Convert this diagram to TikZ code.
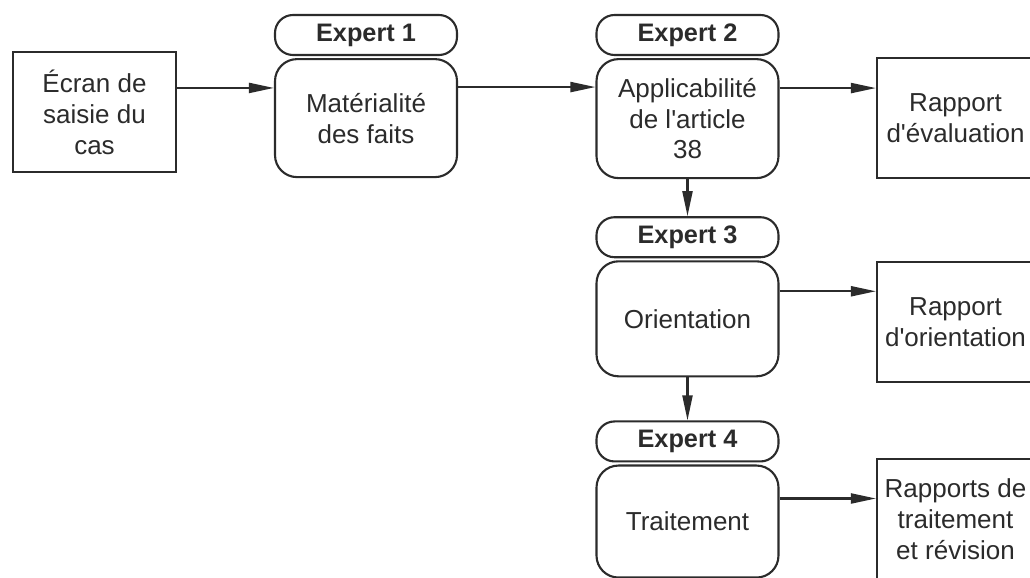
\documentclass[tikz,border=0pt]{standalone}
\usepackage{fontspec}
\setmainfont{Liberation Sans}
\usepackage{xcolor}
\usepackage{tikz}
\usetikzlibrary{positioning, arrows.meta}
\definecolor{ink}{HTML}{2B2B2B}

\begin{document}
\begin{tikzpicture}[
    font=\fontsize{14.8pt}{17.6pt}\selectfont,
    every node/.style={draw=ink, text=ink, line width=1.2pt, align=center},
    report/.style={minimum width=3.14cm, minimum height=2.4cm},
    head/.style={rounded corners=0.36cm, minimum width=3.64cm, minimum height=0.8cm,
                 inner sep=0pt, font=\fontsize{14.4pt}{17pt}\selectfont\bfseries},
    task/.style={rounded corners=0.44cm, minimum width=3.64cm, minimum height=2.36cm},
    flow/.style={draw=ink, line width=1.2pt, -{Triangle[length=0.5cm, width=0.2cm]}}
  ]
    \useasboundingbox (0,0) rectangle (20.6,-11.54);
    \clip (0,0) rectangle (20.6,-11.54);

    % input screen
    \node[report, minimum width=3.26cm] (ecran) at (1.89,-2.24) {Écran de\\saisie du\\cas};

    % experts
    \node[head] (h1) at (7.32,-0.7) {Expert 1};
    \node[task, below=0.04cm of h1] (m1) {Matérialité\\des faits};
    \node[head] (h2) at (13.75,-0.7) {Expert 2};
    \node[task, minimum height=2.38cm, below=0.04cm of h2] (m2) {Applicabilité\\de l\textquotesingle article\\38};
    \node[head, below=0.74cm of m2] (h3) {Expert 3};
    \node[task, minimum height=2.3cm, below=0.04cm of h3] (m3) {Orientation};
    \node[head, below=0.86cm of m3] (h4) {Expert 4};
    \node[task, minimum height=2.24cm, below=0.04cm of h4] (m4) {Traitement};

    % reports
    \node[report] (r1) at (19.11,-2.36) {Rapport\\d\textquotesingle évaluation};
    \node[report] (r2) at (19.11,-6.44) {Rapport\\d\textquotesingle orientation};
    \node[report] (r3) at (19.11,-10.38) {Rapports de\\traitement\\et révision};

    % connectors
    \draw[flow] ([yshift=-0.74cm]ecran.north east) -- ([yshift=-0.74cm]ecran.north east -| m1.west);
    \draw[flow] ([yshift=-0.58cm]m1.north east) -- ([yshift=-0.58cm]m1.north east -| m2.west);
    \draw[flow] ([yshift=-0.6cm]m2.north east) -- ([yshift=-0.6cm]m2.north east -| r1.west);
    \draw[flow] ([yshift=-0.62cm]m3.north east) -- ([yshift=-0.62cm]m3.north east -| r2.west);
    \draw[flow] ([yshift=-0.68cm]m4.north east) -- ([yshift=-0.68cm]m4.north east -| r3.west);
    \draw[flow] (m2) -- (h3);
    \draw[flow] (m3) -- (h4);
\end{tikzpicture}
\end{document}
